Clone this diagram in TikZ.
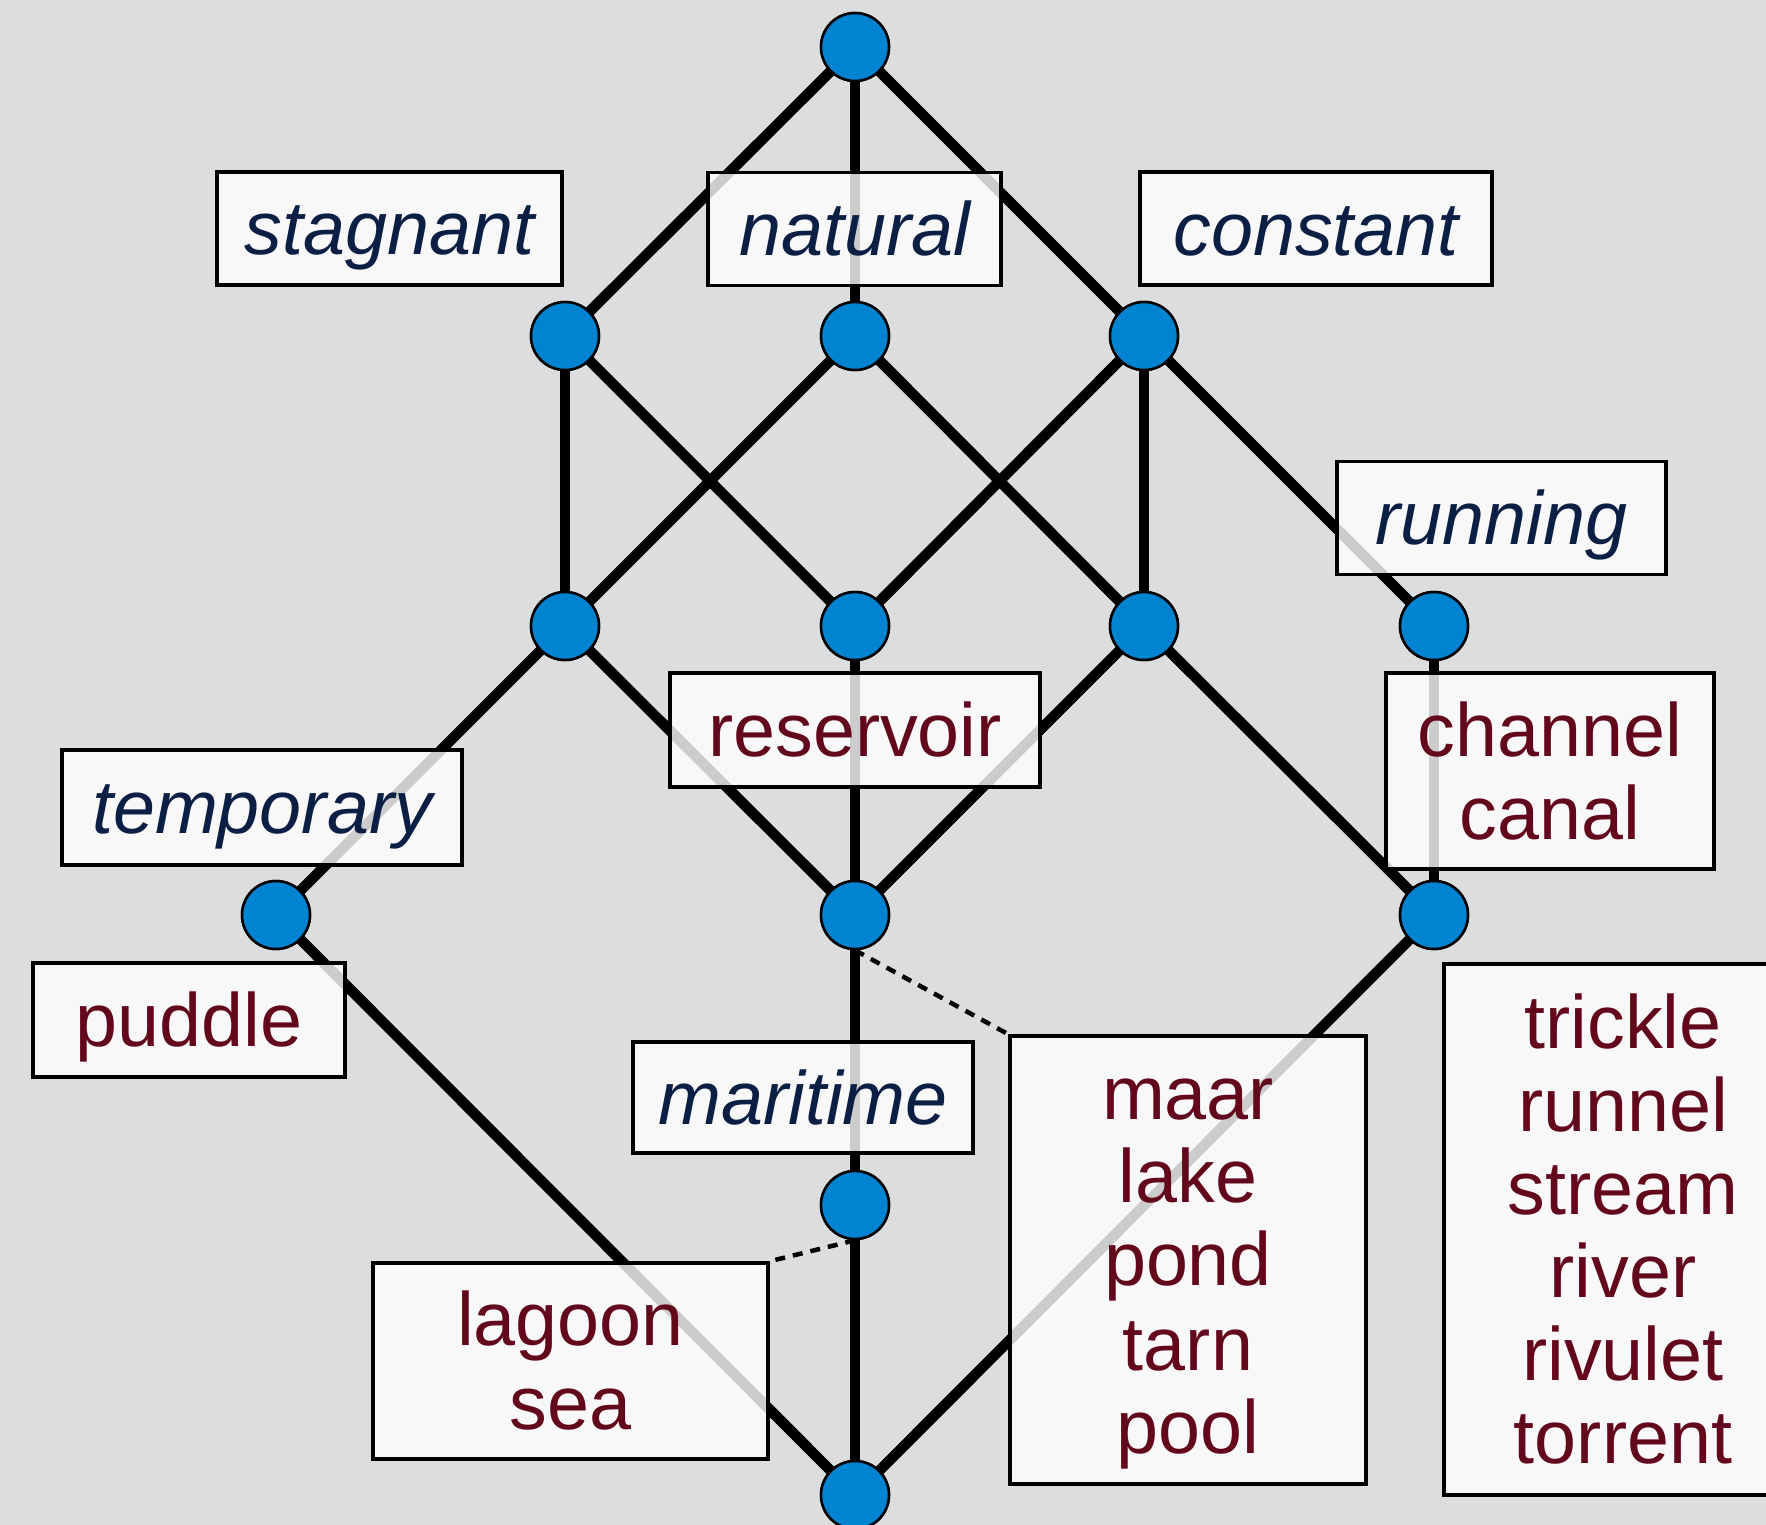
\documentclass[tikz,border=0pt]{standalone}
\usepackage{fontspec}
\setmainfont{Liberation Sans}
\definecolor{bg}{HTML}{DCDDDF}
\definecolor{nodeblue}{HTML}{0083D0}
\definecolor{navy}{HTML}{0B1F45}
\definecolor{wine}{HTML}{63081C}
\newcommand\ls{\rule[-15pt]{0pt}{83pt}}
\tikzset{
  vtx/.style={circle, fill=nodeblue, draw=black, line width=2.5pt, minimum size=68pt, inner sep=0pt},
  edge/.style={line width=10.5pt},
  dotline/.style={line width=4.5pt, dash pattern=on 10pt off 8pt},
  lbl/.style={draw=black, line width=3.5pt, fill=white, fill opacity=0.8, text opacity=1,
    inner xsep=0pt, inner ysep=0pt, align=center},
  attr/.style={lbl, text=navy, font=\fontsize{75.5}{83}\selectfont\itshape},
  obj/.style={lbl, text=wine, font=\fontsize{75.5}{83}\selectfont},
}
\begin{document}
\begin{tikzpicture}[x=1pt, y=-1pt]
\fill[bg] (0,0) rectangle (1766,1525);
\clip (0,0) rectangle (1766,1525);
% vertices
\node[vtx] (t) at (855,47) {};
\node[vtx] (a1) at (565,336) {};
\node[vtx] (a2) at (855,336) {};
\node[vtx] (a3) at (1144,336) {};
\node[vtx] (b1) at (565,626) {};
\node[vtx] (b2) at (855,626) {};
\node[vtx] (b3) at (1144,626) {};
\node[vtx] (b4) at (1434,626) {};
\node[vtx] (c1) at (276,915) {};
\node[vtx] (c2) at (855,915) {};
\node[vtx] (c3) at (1434,915) {};
\node[vtx] (d) at (855,1205) {};
\node[vtx] (e) at (855,1495) {};
% edges
\foreach \u/\v in {t/a1,t/a2,t/a3,a1/b1,a1/b2,a2/b1,a2/b3,a3/b2,a3/b3,a3/b4,
  b1/c1,b1/c2,b2/c2,b3/c2,b3/c3,b4/c3,c1/e,c2/d,c3/e,d/e}
  \draw[edge] (\u.center) -- (\v.center);
% labels
\node[attr, minimum width=345pt, minimum height=113pt] (stagnant) at (389.5,228.5) {\ls stagnant};
\node[attr, minimum width=293pt, minimum height=113pt] (natural) at (854.5,229) {\ls natural};
\node[attr, minimum width=352pt, minimum height=113pt] (constant) at (1316,228.5) {\ls constant};
\node[attr, minimum width=329pt, minimum height=113pt] (running) at (1501.5,518) {\ls running};
\node[obj, minimum width=370pt, minimum height=114pt] (reservoir) at (855,730) {\ls reservoir};
\node[obj, minimum width=328pt, minimum height=196pt] (channel) at (1550,771) {\ls channel\\\ls canal};
\node[attr, minimum width=400pt, minimum height=115pt] (temporary) at (262,807.5) {\ls temporary};
\node[obj, minimum width=312pt, minimum height=114pt] (puddle) at (189,1020) {\ls puddle};
\node[attr, minimum width=340pt, minimum height=111pt] (maritime) at (803,1097.5) {\ls maritime};
\node[obj, minimum width=395pt, minimum height=196pt] (lagoon) at (570.5,1361) {\ls lagoon\\\ls sea};
\node[obj, minimum width=356pt, minimum height=448pt] (maar) at (1188,1260) {\ls maar\\\ls lake\\\ls pond\\\ls tarn\\\ls pool};
\node[obj, minimum width=358pt, minimum height=531pt] (trickle) at (1623,1229.5) {\ls trickle\\\ls runnel\\\ls stream\\\ls river\\\ls rivulet\\\ls torrent};
% dotted connectors
\draw[dotline] (c2.south) -- (maar.north west);
\draw[dotline] (d.south) -- (lagoon.north east);
% vertices on top
\foreach \n in {t,a1,a2,a3,b1,b2,b3,b4,c1,c2,c3,d,e}
  \node[vtx] at (\n) {};
\end{tikzpicture}
\end{document}
